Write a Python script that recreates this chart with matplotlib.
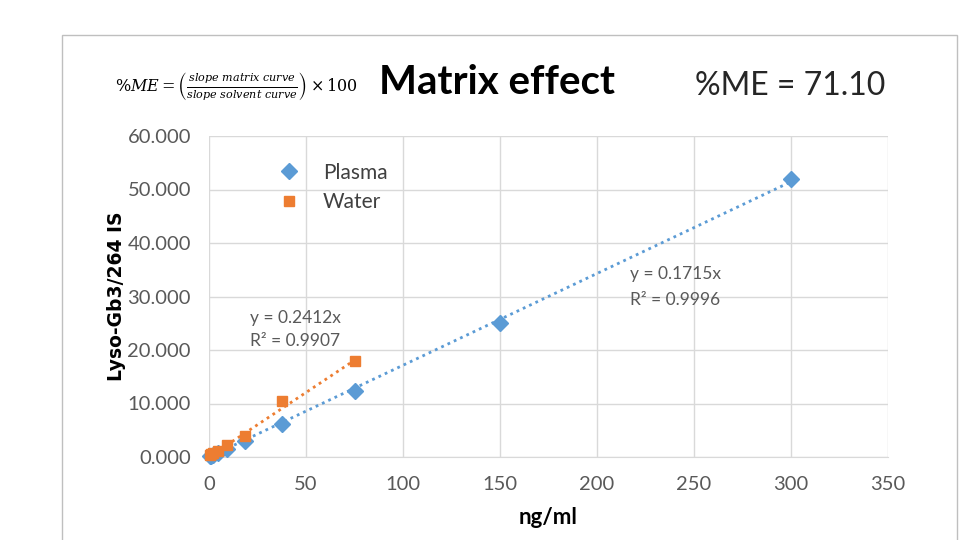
import matplotlib.pyplot as plt
from matplotlib.patches import Rectangle
import numpy as np

# concentrações (ng/ml) e razões de área
x_plasma = [0.6, 1.2, 2.3, 4.7, 9.4, 18.75, 37.5, 75, 150, 300]
y_plasma = [0.1, 0.2, 0.4, 0.8, 1.5, 3.0, 6.2, 12.3, 25.1, 52.0]
x_water = [0.6, 1.2, 2.3, 4.7, 9.4, 18.75, 37.5, 75]
y_water = [0.3, 0.5, 0.8, 1.2, 2.2, 4.0, 10.4, 17.9]

slope_plasma = 0.1715
slope_water = 0.2412

azul = '#5B9BD5'
laranja = '#ED7D31'
cinza = '#595959'

plt.rcParams['font.family'] = ['Lato', 'DejaVu Sans']
plt.rcParams['mathtext.fontset'] = 'dejavuserif'

fig = plt.figure(figsize=(9.61, 5.4), dpi=100)
ax = fig.add_axes([209/961, 1 - 457/540, (888 - 209)/961, (457 - 136)/540])

# moldura do gráfico
fig.patches.append(Rectangle((62/961, -0.1), (957 - 62)/961, (540 - 35)/540 + 0.1,
                             transform=fig.transFigure, fill=False,
                             edgecolor='#BFBFBF', linewidth=1))

# linhas de tendência (passando pela origem)
xp = np.array([0, max(x_plasma)])
xw = np.array([0, max(x_water)])
ax.plot(xp, slope_plasma * xp, linestyle=(0, (1, 1.5)), color=azul, linewidth=2, zorder=2)
ax.plot(xw, slope_water * xw, linestyle=(0, (1, 1.5)), color=laranja, linewidth=2, zorder=2)

ax.plot(x_plasma, y_plasma, 'D', color=azul, markersize=8, label='Plasma', zorder=3, clip_on=False)
ax.plot(x_water, y_water, 's', color=laranja, markersize=7, label='Water', zorder=4, clip_on=False)

ax.set_xlim(0, 350)
ax.set_ylim(0, 60)
ax.set_xticks(range(0, 351, 50))
ax.set_yticks(range(0, 61, 10))
ax.set_yticklabels([f'{v:.3f}' for v in range(0, 61, 10)])
ax.tick_params(length=0, labelsize=14.5, colors=cinza)
ax.tick_params(axis='y', pad=13)
ax.tick_params(axis='x', pad=14)
ax.grid(True, color='#D9D9D9', linewidth=1)
ax.set_axisbelow(True)
for s in ax.spines.values():
    s.set_visible(False)
ax.spines['bottom'].set_visible(True)
ax.spines['bottom'].set_color('#D9D9D9')

ax.set_xlabel('ng/ml', fontsize=16, fontweight='bold', labelpad=10)
ax.set_ylabel('Lyso-Gb3/264 IS', fontsize=13.5, fontweight='bold', labelpad=1,
              family=['Verdana', 'DejaVu Sans'])

ax.text(21, 26, 'y = 0.2412x', fontsize=12.5, color=cinza, va='center')
ax.text(21, 21.6, 'R² = 0.9907', fontsize=12.5, color=cinza, va='center')
ax.text(217, 34.2, 'y = 0.1715x', fontsize=12.5, color=cinza, va='center')
ax.text(217, 29.4, 'R² = 0.9996', fontsize=12.5, color=cinza, va='center')

leg = ax.legend(loc='upper left', bbox_to_anchor=(0.06, 0.975), frameon=False,
                fontsize=15, handletextpad=0.6, labelspacing=0.45)
for t in leg.get_texts():
    t.set_color('#404040')

fig.text(497/961, 1 - 82/540, 'Matrix effect', fontsize=29, fontweight='bold',
         ha='center', va='center')
fig.text(790/961, 1 - 86/540, '%ME = 71.10', fontsize=23, ha='center', va='center',
         color='#262626')
fig.text(115/961, 1 - 86/540,
         r'$\%ME = \left(\frac{slope\ matrix\ curve}{slope\ solvent\ curve}\right) \times 100$',
         fontsize=11.5, ha='left', va='center')

fig.savefig('out.png', dpi=100)
